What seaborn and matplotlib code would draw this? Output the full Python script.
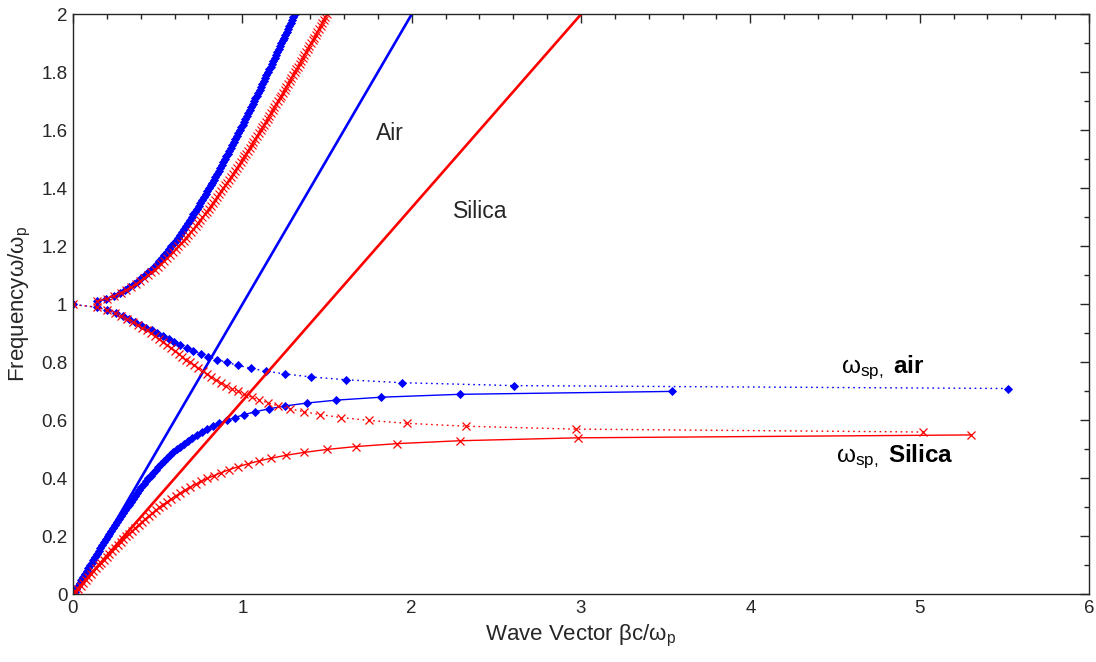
import matplotlib
matplotlib.use("Agg")
import matplotlib.pyplot as plt
from matplotlib.ticker import MultipleLocator
import seaborn as sns

sns.set_theme(style="white")
plt.rcParams["font.family"] = ["Liberation Sans", "DejaVu Sans"]
plt.rcParams["mathtext.fontset"] = "custom"
plt.rcParams["mathtext.rm"] = "Liberation Sans"
plt.rcParams["mathtext.it"] = "Liberation Sans:italic"
plt.rcParams["mathtext.bf"] = "Liberation Sans:bold"

# ---- surface-plasmon dispersion data (k = beta*c/omega_p, w = omega/omega_p) ----

# upper (radiative) branch, shared frequency samples
omega_upper = [1.01, 1.02, 1.03, 1.04, 1.05, 1.06, 1.07, 1.08, 1.09, 1.10,
               1.11, 1.12, 1.13, 1.14, 1.15, 1.16, 1.17, 1.18, 1.19, 1.20,
               1.21, 1.22, 1.23, 1.24, 1.25, 1.26, 1.27, 1.28, 1.29, 1.30,
               1.31, 1.32, 1.33, 1.34, 1.35, 1.36, 1.37, 1.38, 1.39, 1.40,
               1.41, 1.42, 1.43, 1.44, 1.45, 1.46, 1.47, 1.48, 1.49, 1.50,
               1.51, 1.52, 1.53, 1.54, 1.55, 1.56, 1.57, 1.58, 1.59, 1.60,
               1.61, 1.62, 1.63, 1.64, 1.65, 1.66, 1.67, 1.68, 1.69, 1.70,
               1.71, 1.72, 1.73, 1.74, 1.75, 1.76, 1.77, 1.78, 1.79, 1.80,
               1.81, 1.82, 1.83, 1.84, 1.85, 1.86, 1.87, 1.88, 1.89, 1.90,
               1.91, 1.92, 1.93, 1.94, 1.95, 1.96, 1.97, 1.98, 1.99, 2.00]
k_upper_air = [0.1404, 0.1972, 0.2400, 0.2755, 0.3062, 0.3337, 0.3586, 0.3816, 0.4030, 0.4230,
               0.4419, 0.4599, 0.4770, 0.4934, 0.5092, 0.5244, 0.5391, 0.5533, 0.5671, 0.5805,
               0.5936, 0.6064, 0.6189, 0.6311, 0.6431, 0.6549, 0.6664, 0.6778, 0.6890, 0.7000,
               0.7108, 0.7215, 0.7321, 0.7425, 0.7528, 0.7630, 0.7731, 0.7831, 0.7930, 0.8027,
               0.8124, 0.8221, 0.8316, 0.8411, 0.8504, 0.8598, 0.8690, 0.8782, 0.8873, 0.8964,
               0.9054, 0.9144, 0.9233, 0.9322, 0.9410, 0.9498, 0.9586, 0.9673, 0.9759, 0.9845,
               0.9931, 1.0017, 1.0102, 1.0187, 1.0271, 1.0356, 1.0440, 1.0523, 1.0607, 1.0690,
               1.0772, 1.0855, 1.0938, 1.1020, 1.1102, 1.1183, 1.1265, 1.1346, 1.1427, 1.1508,
               1.1589, 1.1669, 1.1750, 1.1830, 1.1910, 1.1990, 1.2070, 1.2149, 1.2229, 1.2308,
               1.2387, 1.2466, 1.2545, 1.2623, 1.2702, 1.2780, 1.2859, 1.2937, 1.3015, 1.3093]
k_upper_silica = [0.1412, 0.1993, 0.2437, 0.2810, 0.3137, 0.3433, 0.3704, 0.3956, 0.4192, 0.4416,
                  0.4628, 0.4831, 0.5026, 0.5213, 0.5394, 0.5570, 0.5740, 0.5905, 0.6067, 0.6224,
                  0.6378, 0.6529, 0.6676, 0.6821, 0.6964, 0.7104, 0.7241, 0.7377, 0.7510, 0.7642,
                  0.7772, 0.7901, 0.8027, 0.8153, 0.8277, 0.8400, 0.8521, 0.8642, 0.8761, 0.8879,
                  0.8996, 0.9113, 0.9228, 0.9342, 0.9456, 0.9569, 0.9681, 0.9792, 0.9902, 1.0013,
                  1.0122, 1.0230, 1.0338, 1.0446, 1.0553, 1.0659, 1.0765, 1.0870, 1.0975, 1.1079,
                  1.1183, 1.1287, 1.1390, 1.1493, 1.1595, 1.1697, 1.1799, 1.1900, 1.2001, 1.2101,
                  1.2201, 1.2301, 1.2401, 1.2500, 1.2599, 1.2698, 1.2796, 1.2894, 1.2992, 1.3090,
                  1.3188, 1.3285, 1.3382, 1.3478, 1.3575, 1.3671, 1.3767, 1.3863, 1.3959, 1.4054,
                  1.4150, 1.4245, 1.4340, 1.4435, 1.4529, 1.4624, 1.4718, 1.4812, 1.4906, 1.5000]

# bound surface-plasmon branch, metal/air
omega_lower_air = [0.00, 0.01, 0.02, 0.03, 0.04, 0.05, 0.06, 0.07, 0.08, 0.09,
                   0.10, 0.11, 0.12, 0.13, 0.14, 0.15, 0.16, 0.17, 0.18, 0.19,
                   0.20, 0.21, 0.22, 0.23, 0.24, 0.25, 0.26, 0.27, 0.28, 0.29,
                   0.30, 0.31, 0.32, 0.33, 0.34, 0.35, 0.36, 0.37, 0.38, 0.39,
                   0.40, 0.41, 0.42, 0.43, 0.44, 0.45, 0.46, 0.47, 0.48, 0.49,
                   0.50, 0.51, 0.52, 0.53, 0.54, 0.55, 0.56, 0.57, 0.58, 0.59,
                   0.60, 0.61, 0.62, 0.63, 0.64, 0.65, 0.66, 0.67, 0.68, 0.69,
                   0.70]
k_lower_air = [0.0000, 0.0100, 0.0200, 0.0300, 0.0400, 0.0501, 0.0601, 0.0702, 0.0803, 0.0904,
               0.1005, 0.1107, 0.1209, 0.1311, 0.1414, 0.1518, 0.1621, 0.1726, 0.1831, 0.1937,
               0.2043, 0.2150, 0.2258, 0.2367, 0.2477, 0.2588, 0.2700, 0.2813, 0.2927, 0.3043,
               0.3160, 0.3279, 0.3400, 0.3522, 0.3647, 0.3773, 0.3902, 0.4034, 0.4168, 0.4305,
               0.4446, 0.4590, 0.4738, 0.4890, 0.5047, 0.5210, 0.5378, 0.5553, 0.5735, 0.5925,
               0.6124, 0.6333, 0.6555, 0.6789, 0.7040, 0.7309, 0.7599, 0.7914, 0.8260, 0.8643,
               0.9071, 0.9557, 1.0117, 1.0774, 1.1565, 1.2547, 1.3816, 1.5558, 1.8182, 2.2843,
               3.5348]

# quasi-bound (imaginary wave vector) branch, metal/air
omega_gap_air = [0.71, 0.72, 0.73, 0.74, 0.75, 0.76, 0.77, 0.78, 0.79, 0.80,
                 0.81, 0.82, 0.83, 0.84, 0.85, 0.86, 0.87, 0.88, 0.89, 0.90,
                 0.91, 0.92, 0.93, 0.94, 0.95, 0.96, 0.97, 0.98, 0.99, 1.00]
k_gap_air = [5.5214, 2.6047, 1.9450, 1.6131, 1.4031, 1.2538, 1.1398, 1.0483, 0.9722, 0.9071,
             0.8501, 0.7993, 0.7532, 0.7108, 0.6712, 0.6340, 0.5984, 0.5642, 0.5309, 0.4982,
             0.4658, 0.4332, 0.4001, 0.3661, 0.3306, 0.2927, 0.2511, 0.2032, 0.1425, 0.0000]

# bound surface-plasmon branch, metal/silica
omega_lower_silica = [0.00, 0.01, 0.02, 0.03, 0.04, 0.05, 0.06, 0.07, 0.08, 0.09,
                      0.10, 0.11, 0.12, 0.13, 0.14, 0.15, 0.16, 0.17, 0.18, 0.19,
                      0.20, 0.21, 0.22, 0.23, 0.24, 0.25, 0.26, 0.27, 0.28, 0.29,
                      0.30, 0.31, 0.32, 0.33, 0.34, 0.35, 0.36, 0.37, 0.38, 0.39,
                      0.40, 0.41, 0.42, 0.43, 0.44, 0.45, 0.46, 0.47, 0.48, 0.49,
                      0.50, 0.51, 0.52, 0.53, 0.54, 0.55]
k_lower_silica = [0.0000, 0.0150, 0.0300, 0.0450, 0.0601, 0.0752, 0.0904, 0.1056, 0.1209, 0.1363,
                  0.1517, 0.1673, 0.1830, 0.1989, 0.2149, 0.2311, 0.2474, 0.2640, 0.2808, 0.2978,
                  0.3151, 0.3327, 0.3507, 0.3690, 0.3876, 0.4067, 0.4263, 0.4464, 0.4671, 0.4884,
                  0.5104, 0.5331, 0.5567, 0.5813, 0.6070, 0.6339, 0.6622, 0.6921, 0.7237, 0.7575,
                  0.7937, 0.8328, 0.8753, 0.9218, 0.9733, 1.0309, 1.0963, 1.1717, 1.2602, 1.3670,
                  1.5000, 1.6732, 1.9138, 2.2846, 2.9811, 5.3040]

# quasi-bound (imaginary wave vector) branch, metal/silica
omega_gap_silica = [0.56, 0.57, 0.58, 0.59, 0.60, 0.61, 0.62, 0.63, 0.64, 0.65,
                    0.66, 0.67, 0.68, 0.69, 0.70, 0.71, 0.72, 0.73, 0.74, 0.75,
                    0.76, 0.77, 0.78, 0.79, 0.80, 0.81, 0.82, 0.83, 0.84, 0.85,
                    0.86, 0.87, 0.88, 0.89, 0.90, 0.91, 0.92, 0.93, 0.94, 0.95,
                    0.96, 0.97, 0.98, 0.99, 1.00]
k_gap_silica = [5.0225, 2.9706, 2.3202, 1.9718, 1.7463, 1.5847, 1.4614, 1.3630, 1.2817, 1.2130,
                1.1536, 1.1013, 1.0547, 1.0126, 0.9742, 0.9387, 0.9057, 0.8748, 0.8455, 0.8177,
                0.7911, 0.7655, 0.7406, 0.7165, 0.6928, 0.6696, 0.6466, 0.6239, 0.6012, 0.5785,
                0.5556, 0.5325, 0.5091, 0.4851, 0.4606, 0.4352, 0.4088, 0.3810, 0.3516, 0.3200,
                0.2855, 0.2466, 0.2008, 0.1417, 0.0000]

# light lines in air and in silica
k_light_air = [0.0, 2.0]
omega_light_air = [0.0, 2.0]
k_light_silica = [0.0, 3.0]
omega_light_silica = [0.0, 2.0]

# axis ticks
x_ticks = [0, 1, 2, 3, 4, 5, 6]
x_tick_labels = ["0", "1", "2", "3", "4", "5", "6"]
y_ticks = [0.0, 0.2, 0.4, 0.6, 0.8, 1.0, 1.2, 1.4, 1.6, 1.8, 2.0]
y_tick_labels = ["0", "0.2", "0.4", "0.6", "0.8", "1", "1.2", "1.4", "1.6", "1.8", "2"]

BLUE = "#0000ff"
RED = "#ff0000"
INK = "#262626"

fig = plt.figure(figsize=(10.96, 6.62), dpi=100)
fig.patch.set_facecolor("white")
ax = fig.add_axes([0.0666, 0.1020, 0.9270, 0.8764])


def curve(x, y, color, marker=None, ls="-", lw=1.0, ms=4.0, mew=1.0):
    sns.lineplot(x=x, y=y, ax=ax, sort=False, estimator=None, color=color,
                 linestyle=ls, linewidth=lw, marker=marker, markersize=ms,
                 markeredgecolor=color, markerfacecolor=color,
                 markeredgewidth=mew)


dotted = (0, (1.2, 2.6))

# air interface (blue diamonds)
curve(k_upper_air, omega_upper, BLUE, marker="D", ms=3.9, mew=0.6)
curve(k_lower_air, omega_lower_air, BLUE, marker="D", ms=3.9, mew=0.6)
curve(k_gap_air, omega_gap_air, BLUE, marker="D", ls=dotted, ms=3.9, mew=0.6)
curve(k_light_air, omega_light_air, BLUE, lw=1.9)

# silica interface (red crosses)
curve(k_upper_silica, omega_upper, RED, marker="x", ms=5.5, mew=0.8)
curve(k_lower_silica, omega_lower_silica, RED, marker="x", ms=5.5, mew=0.9)
curve(k_gap_silica, omega_gap_silica, RED, marker="x", ls=dotted, ms=5.5, mew=0.9)
curve(k_light_silica, omega_light_silica, RED, lw=1.9)

ax.set_xlim(0, 6)
ax.set_ylim(0, 2)
ax.set_xticks(x_ticks)
ax.set_xticklabels(x_tick_labels)
ax.set_yticks(y_ticks)
ax.set_yticklabels(y_tick_labels)
ax.xaxis.set_minor_locator(MultipleLocator(0.2))
ax.yaxis.set_minor_locator(MultipleLocator(0.1))
ax.tick_params(which="both", direction="in", top=True, right=True,
               color=INK, width=1.0, labelsize=13.5, labelcolor=INK)
ax.tick_params(which="major", length=6.5, pad=4)
ax.tick_params(which="minor", length=3.6)
ax.grid(False)
for sp in ax.spines.values():
    sp.set_color(INK)
    sp.set_linewidth(1.0)

ax.set_xlabel(r"Wave Vector βc/ω$_\mathrm{p}$", fontsize=16, color=INK, labelpad=4)
ax.set_ylabel(r"Frequencyω/ω$_\mathrm{p}$", fontsize=16, color=INK, labelpad=6)

ax.text(1.79, 1.566, "Air", fontsize=16.5, color=INK)
ax.text(2.242, 1.297, "Silica", fontsize=16.5, color=INK)
ax.text(4.538, 0.762, r"ω$_\mathrm{sp,}$ $\mathbf{air}$", fontsize=17.5, color="black")
ax.text(4.508, 0.458, r"ω$_\mathrm{sp,}$ $\mathbf{Silica}$", fontsize=17.5, color="black")

fig.savefig("out.png", dpi=100, facecolor="white")
